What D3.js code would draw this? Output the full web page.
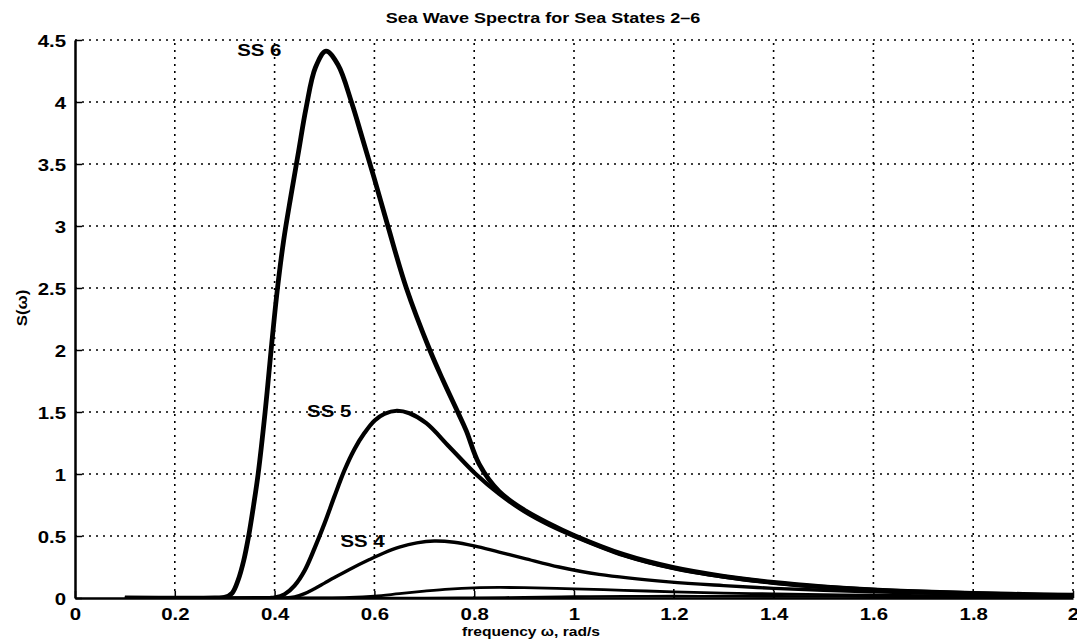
<!DOCTYPE html>
<html lang="en">
  <head>
    <meta charset="UTF-8" />
    <title>Sea Wave Spectra for Sea States 2-6</title>
    <script src="https://d3js.org/d3.v7.min.js"></script>
    <style>
      html,
      body {
        margin: 0;
        padding: 0;
        background: #ffffff;
      }
      text {
        font-family: "Liberation Sans", Arial, sans-serif;
        font-weight: bold;
        fill: #000;
      }
    </style>
  </head>
  <body>
    <div id="viz"></div>
    <script>
      // values (frequency in rad/s, S in m^2 s)
      const ss6Freq = [0.1, 0.28, 0.3, 0.315, 0.327, 0.338, 0.348, 0.358, 0.367, 0.381, 0.393, 0.405, 0.418, 0.433, 0.448, 0.463, 0.482, 0.503, 0.527, 0.554, 0.575, 0.6, 0.627, 0.664, 0.711, 0.737, 0.767, 0.784, 0.81, 0.85, 0.9, 0.95, 1.0, 1.1, 1.2, 1.3, 1.4, 1.5, 1.6, 1.7, 1.8, 1.9, 2.0];
      const ss6Val = [0, 0, 0.005, 0.04, 0.145, 0.3, 0.5, 0.75, 1.0, 1.5, 2.0, 2.47, 2.88, 3.25, 3.6, 3.95, 4.28, 4.41, 4.3, 4.0, 3.72, 3.38, 3.0, 2.5, 2.0, 1.76, 1.5, 1.35, 1.08, 0.86, 0.71, 0.6, 0.505, 0.35, 0.245, 0.175, 0.125, 0.09, 0.066, 0.05, 0.038, 0.029, 0.022];

      const ss5Freq = [0.1, 0.39, 0.4, 0.42, 0.44, 0.46, 0.48, 0.5, 0.52, 0.54, 0.56, 0.58, 0.6, 0.62, 0.645, 0.67, 0.704, 0.75, 0.803, 0.85, 0.9, 0.95, 1.0, 1.1, 1.2, 1.3, 1.4, 1.5, 1.6, 1.7, 1.8, 1.9, 2.0];
      const ss5Val = [0, 0, 0.003, 0.03, 0.1, 0.22, 0.4, 0.6, 0.82, 1.03, 1.2, 1.33, 1.43, 1.485, 1.51, 1.49, 1.41, 1.22, 1.0, 0.84, 0.7, 0.59, 0.5, 0.345, 0.24, 0.172, 0.123, 0.089, 0.065, 0.049, 0.037, 0.028, 0.021];

      const ss4Freq = [0.1, 0.42, 0.44, 0.46, 0.48, 0.5, 0.52, 0.55, 0.59, 0.62, 0.65, 0.685, 0.72, 0.76, 0.8, 0.85, 0.9, 0.97, 1.05, 1.19, 1.3, 1.4, 1.5, 1.6, 1.7, 1.8, 1.9, 2.0];
      const ss4Val = [0, 0, 0.008, 0.035, 0.075, 0.12, 0.165, 0.23, 0.31, 0.365, 0.41, 0.445, 0.46, 0.45, 0.42, 0.37, 0.32, 0.25, 0.19, 0.13, 0.1, 0.078, 0.062, 0.05, 0.04, 0.033, 0.027, 0.022];

      const ss3Freq = [0.1, 0.5, 0.55, 0.6, 0.65, 0.7, 0.75, 0.8, 0.85, 0.9, 1.0, 1.1, 1.2, 1.3, 1.4, 1.5, 1.6, 1.8, 2.0];
      const ss3Val = [0, 0, 0.004, 0.015, 0.035, 0.055, 0.072, 0.082, 0.085, 0.083, 0.074, 0.062, 0.05, 0.04, 0.033, 0.027, 0.023, 0.017, 0.013];

      const ss2Freq = [0.1, 0.7, 0.8, 0.9, 1.0, 1.1, 1.2, 1.3, 1.4, 1.6, 1.8, 2.0];
      const ss2Val = [0, 0, 0.002, 0.006, 0.011, 0.014, 0.015, 0.014, 0.013, 0.011, 0.009, 0.007];

      const xTicks = [0, 0.2, 0.4, 0.6, 0.8, 1, 1.2, 1.4, 1.6, 1.8, 2];
      const yTicks = [0, 0.5, 1, 1.5, 2, 2.5, 3, 3.5, 4, 4.5];

      const curveLabels = ["SS 6", "SS 5", "SS 4"];
      const labelFreq = [0.325, 0.465, 0.532];
      const labelVal = [4.37, 1.46, 0.41];

      const W = 1077,
        H = 644;
      const margin = { top: 40, right: 4, bottom: 46, left: 75 };

      const svg = d3
        .select("#viz")
        .append("svg")
        .attr("width", W)
        .attr("height", H)
        .style("display", "block");

      svg.append("rect").attr("width", W).attr("height", H).attr("fill", "#fff");

      const x = d3.scaleLinear().domain([0, 2]).range([margin.left, W - margin.right]);
      const y = d3.scaleLinear().domain([0, 4.5]).range([H - margin.bottom, margin.top]);

      // dotted grid (the top and right edges are drawn as grid as well)
      svg
        .append("g")
        .selectAll("line")
        .data(xTicks.slice(1))
        .join("line")
        .attr("x1", (d) => x(d))
        .attr("x2", (d) => x(d))
        .attr("y1", y(0))
        .attr("y2", y(4.5))
        .attr("stroke", "#000")
        .attr("stroke-width", 1.6)
        .attr("stroke-dasharray", "2,5");

      svg
        .append("g")
        .selectAll("line")
        .data(yTicks.slice(1))
        .join("line")
        .attr("x1", x(0))
        .attr("x2", x(2))
        .attr("y1", (d) => y(d))
        .attr("y2", (d) => y(d))
        .attr("stroke", "#000")
        .attr("stroke-width", 1.6)
        .attr("stroke-dasharray", "2,5");

      // curves, clipped to the plot so the smoothing can't dip below the axis
      svg
        .append("clipPath")
        .attr("id", "plot")
        .append("rect")
        .attr("x", x(0))
        .attr("y", 0)
        .attr("width", x(2) - x(0))
        .attr("height", y(0));

      const series = [
        { f: ss2Freq, v: ss2Val, w: 2.6 },
        { f: ss3Freq, v: ss3Val, w: 2.8 },
        { f: ss4Freq, v: ss4Val, w: 3.4 },
        { f: ss5Freq, v: ss5Val, w: 4.2 },
        { f: ss6Freq, v: ss6Val, w: 4.8 },
      ];

      const line = d3
        .line()
        .x((d) => x(d[0]))
        .y((d) => y(d[1]))
        .curve(d3.curveCatmullRom.alpha(0.5));

      svg
        .append("g")
        .attr("clip-path", "url(#plot)")
        .selectAll("path")
        .data(series)
        .join("path")
        .attr("d", (s) => line(s.f.map((f, i) => [f, s.v[i]])))
        .attr("fill", "none")
        .attr("stroke", "#000")
        .attr("stroke-width", (s) => s.w)
        .attr("stroke-linejoin", "round");

      // axes, MATLAB-style inward ticks
      const xAxis = svg
        .append("g")
        .attr("transform", `translate(0,${y(0)})`)
        .call(d3.axisBottom(x).tickValues(xTicks).tickFormat(d3.format("")).tickSizeInner(-7).tickSizeOuter(0).tickPadding(10));
      const yAxis = svg
        .append("g")
        .attr("transform", `translate(${x(0)},0)`)
        .call(d3.axisLeft(y).tickValues(yTicks).tickFormat(d3.format("")).tickSizeInner(-7).tickSizeOuter(0).tickPadding(9));

      [xAxis, yAxis].forEach((g) => {
        g.select(".domain").attr("stroke", "#000").attr("stroke-width", 2.5);
        g.selectAll(".tick line").attr("stroke", "#000").attr("stroke-width", 1.5);
        g.selectAll(".tick text").style("font-size", "17px").attr("fill", "#000");
      });
      yAxis.selectAll(".tick text").attr("dy", "0.36em");

      svg
        .append("g")
        .selectAll("text")
        .data(curveLabels)
        .join("text")
        .attr("x", (d, i) => x(labelFreq[i]))
        .attr("y", (d, i) => y(labelVal[i]))
        .style("font-size", "17px")
        .text((d) => d);

      svg
        .append("text")
        .attr("x", 543)
        .attr("y", 23)
        .attr("text-anchor", "middle")
        .style("font-size", "15px")
        .text("Sea Wave Spectra for Sea States 2\u20136");

      svg
        .append("text")
        .attr("x", 531)
        .attr("y", 636)
        .attr("text-anchor", "middle")
        .style("font-size", "13px")
        .text("frequency \u03c9, rad/s");

      svg
        .append("text")
        .attr("transform", "translate(27,308) rotate(-90)")
        .attr("text-anchor", "middle")
        .style("font-size", "14px")
        .text("S(\u03c9)");

      // the scan has wide lettering: stretch every label horizontally a bit
      svg.selectAll("text").each(function () {
        const len = this.getComputedTextLength();
        d3.select(this).attr("textLength", len * 1.2).attr("lengthAdjust", "spacingAndGlyphs");
      });
    </script>
  </body>
</html>
